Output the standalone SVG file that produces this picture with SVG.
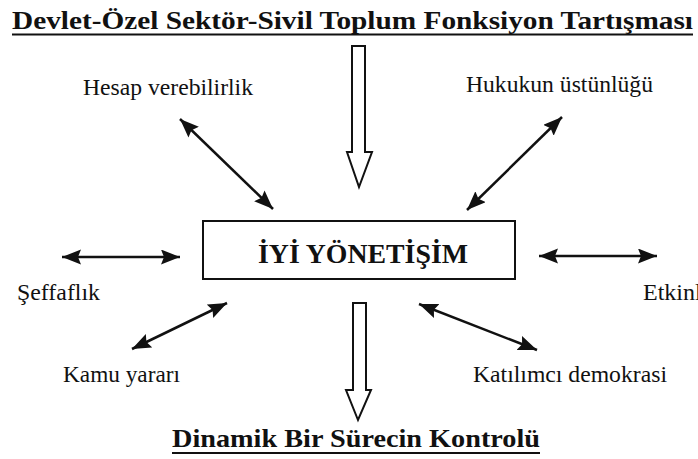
<svg xmlns="http://www.w3.org/2000/svg" width="698" height="459" viewBox="0 0 698 459">
<style>
text{font-family:"Liberation Serif","Times New Roman",serif;fill:#111}
.h{font-weight:bold;font-size:26px}
.lbl{font-size:24px}
.ln{stroke:#111;stroke-width:2.5;fill:none}
.blk{stroke:#111;stroke-width:2;fill:#fff}
</style>
<defs>
<marker id="ah" markerUnits="userSpaceOnUse" markerWidth="20" markerHeight="16" refX="19" refY="7.5" orient="auto-start-reverse">
<path d="M0,0 L19,7.5 L0,15 L3,7.5 z" fill="#111"/>
</marker>
</defs>
<rect width="698" height="459" fill="#fff"/>
<g id="title-top">
<text class="h" x="12" y="29" textLength="681" lengthAdjust="spacingAndGlyphs">Devlet-Özel Sektör-Sivil Toplum Fonksiyon Tartışması</text>
<line x1="12" y1="34.5" x2="693" y2="34.5" stroke="#111" stroke-width="2"/>
</g>
<g id="center">
<rect x="203" y="221" width="312" height="58" fill="#fff" stroke="#111" stroke-width="2"/>
<text class="h" x="363" y="263" text-anchor="middle" style="font-size:28px" textLength="210" lengthAdjust="spacingAndGlyphs">İYİ YÖNETİŞİM</text>
</g>
<g id="title-bottom">
<text class="h" x="172" y="447" textLength="368" lengthAdjust="spacingAndGlyphs">Dinamik Bir Sürecin Kontrolü</text>
<line x1="172" y1="453" x2="540" y2="453" stroke="#111" stroke-width="2"/>
</g>
<g id="hesap"><text class="lbl" x="83" y="95" textLength="170" lengthAdjust="spacingAndGlyphs">Hesap verebilirlik</text></g>
<g id="hukuk"><text class="lbl" x="466" y="92" textLength="187" lengthAdjust="spacingAndGlyphs">Hukukun üstünlüğü</text></g>
<g id="seffaflik"><text class="lbl" x="17" y="300" textLength="83" lengthAdjust="spacingAndGlyphs">Şeffaflık</text></g>
<g id="etkinlik"><text class="lbl" x="643" y="300">Etkinlik</text></g>
<g id="kamu"><text class="lbl" x="63" y="382" textLength="117" lengthAdjust="spacingAndGlyphs">Kamu yararı</text></g>
<g id="katilimci"><text class="lbl" x="473" y="382" textLength="194" lengthAdjust="spacingAndGlyphs">Katılımcı demokrasi</text></g>
<g id="connectors">
<path class="blk" d="M352,46 H365 V152 H372 L359,187 L347,152 H352 Z"/>
<path class="blk" d="M353,303 H366 V390 H371 L358,420 L346,390 H353 Z"/>
<line class="ln" x1="180" y1="119" x2="273" y2="209" marker-start="url(#ah)" marker-end="url(#ah)"/>
<line class="ln" x1="562" y1="117" x2="467" y2="210" marker-start="url(#ah)" marker-end="url(#ah)"/>
<line class="ln" x1="62" y1="257" x2="180" y2="257" marker-start="url(#ah)" marker-end="url(#ah)"/>
<line class="ln" x1="539" y1="256" x2="657" y2="256" marker-start="url(#ah)" marker-end="url(#ah)"/>
<line class="ln" x1="227" y1="303" x2="132" y2="349" marker-start="url(#ah)" marker-end="url(#ah)"/>
<line class="ln" x1="419" y1="304" x2="537" y2="350" marker-start="url(#ah)" marker-end="url(#ah)"/>
</g>
</svg>
